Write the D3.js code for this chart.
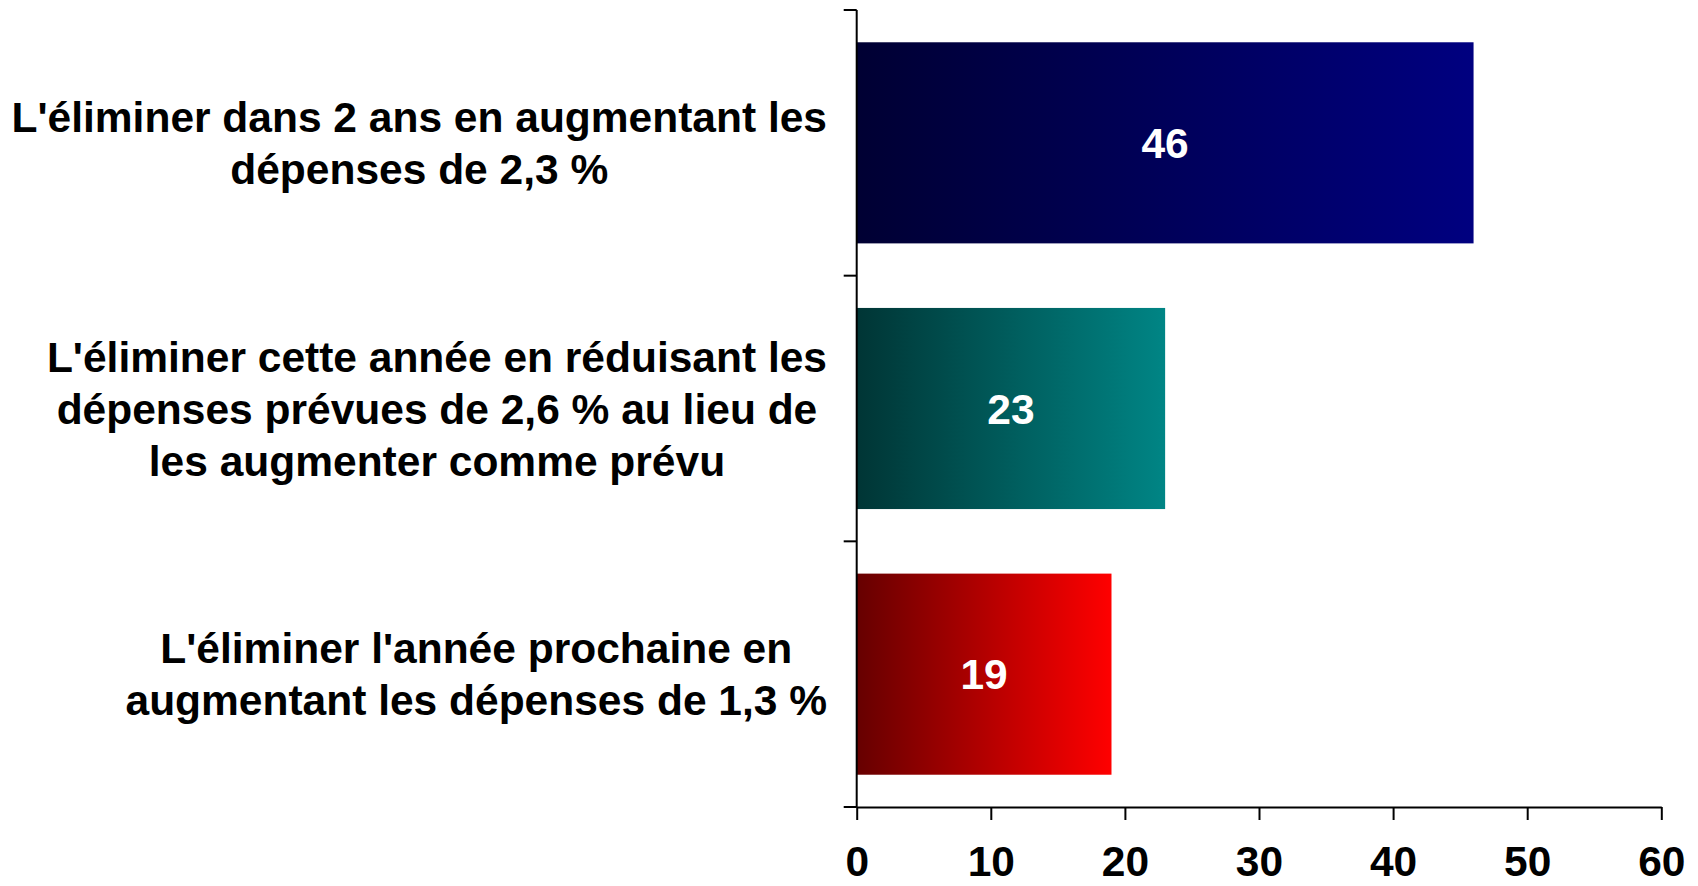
<!DOCTYPE html>
<html>
<head>
<meta charset="utf-8">
<script src="https://cdn.jsdelivr.net/npm/d3@7"></script>
<style>
body { margin: 0; background: #fff; }
svg text { font-family: "Liberation Sans", Arial, sans-serif; font-weight: bold; }
</style>
</head>
<body>
<div id="canvas"></div>
<script>
var _width = 1698;
var _height = 886;

// data
var categories = ["a", "b", "c"];
var labels = [
    ["L'éliminer dans 2 ans en augmentant les", "dépenses de 2,3 %"],
    ["L'éliminer cette année en réduisant les", "dépenses prévues de 2,6 % au lieu de", "les augmenter comme prévu"],
    ["L'éliminer l'année prochaine en", "augmentant les dépenses de 1,3 %"]
];
var values = [46, 23, 19];
var xTicks = [0, 10, 20, 30, 40, 50, 60];
var colorsDark = ["#000033", "#003535", "#660000"];
var colorsLight = ["#000080", "#008585", "#ff0000"];

var _left = 856.7, _right = 1661.3, _top = 10, _bottom = 807;
var _fs = '42.5px';

var svg = d3.select('#canvas').append('svg')
    .attr('width', _width)
    .attr('height', _height);

var x = d3.scaleLinear().domain([0, 60]).range([_left, _right]);
var y = d3.scaleBand().domain(categories).range([_top, _bottom])
    .paddingInner(0.243).paddingOuter(0.1215);

var defs = svg.append('defs');
categories.forEach(function (c, i) {
    var g = defs.append('linearGradient').attr('id', 'grad' + i)
        .attr('x1', '0%').attr('x2', '100%').attr('y1', '0%').attr('y2', '0%');
    g.append('stop').attr('offset', '0%').attr('stop-color', colorsDark[i]);
    g.append('stop').attr('offset', '100%').attr('stop-color', colorsLight[i]);
});

// bars
svg.selectAll('rect.bar').data(values).enter().append('rect')
    .attr('class', 'bar')
    .attr('x', x(0))
    .attr('y', function (d, i) { return y(categories[i]); })
    .attr('width', function (d) { return x(d) - x(0); })
    .attr('height', y.bandwidth())
    .style('fill', function (d, i) { return 'url(#grad' + i + ')'; });

// value labels
svg.selectAll('text.val').data(values).enter().append('text')
    .attr('class', 'val')
    .attr('x', function (d) { return (x(0) + x(d)) / 2; })
    .attr('y', function (d, i) { return y(categories[i]) + y.bandwidth() / 2; })
    .attr('dy', '0.36em')
    .attr('text-anchor', 'middle')
    .style('font-size', _fs)
    .style('fill', 'white')
    .text(function (d) { return d; });

// x axis
var xAxis = svg.append('g')
    .attr('transform', 'translate(0,' + _bottom + ')')
    .call(d3.axisBottom(x).tickValues(xTicks).tickSize(13).tickSizeOuter(0).tickPadding(26));
xAxis.select('.domain').attr('stroke', '#000').attr('stroke-width', 2);
xAxis.selectAll('.tick line').attr('stroke', '#000').attr('stroke-width', 2);
xAxis.selectAll('.tick text')
    .style('font-size', _fs)
    .style('font-family', '"Liberation Sans", Arial, sans-serif')
    .style('font-weight', 'bold')
    .attr('fill', '#000');

// y axis line + ticks at band boundaries
var yAxis = svg.append('g');
yAxis.append('line')
    .attr('x1', _left).attr('x2', _left)
    .attr('y1', _top).attr('y2', _bottom)
    .style('stroke', '#000').style('stroke-width', 2);
var bounds = [0, 1, 2, 3].map(function (k) { return _top + k * y.step(); });
yAxis.selectAll('line.tk').data(bounds).enter().append('line')
    .attr('class', 'tk')
    .attr('x1', _left - 13).attr('x2', _left)
    .attr('y1', function (d) { return d; }).attr('y2', function (d) { return d; })
    .style('stroke', '#000').style('stroke-width', 2);

// category labels: block centred on its widest line, widest line ends at labelRight
var labelRight = 827;
var lineH = 52;
labels.forEach(function (lines, i) {
    var cy = y(categories[i]) + y.bandwidth() / 2;
    var t = svg.append('text')
        .attr('text-anchor', 'middle')
        .style('font-size', _fs)
        .style('fill', '#000');
    lines.forEach(function (ln, j) {
        t.append('tspan')
            .attr('y', cy + (j - (lines.length - 1) / 2) * lineH)
            .attr('dy', '0.36em')
            .text(ln);
    });
    var maxW = 0;
    t.selectAll('tspan').each(function () {
        maxW = Math.max(maxW, this.getComputedTextLength());
    });
    t.selectAll('tspan').attr('x', labelRight - maxW / 2);
});
</script>
</body>
</html>
